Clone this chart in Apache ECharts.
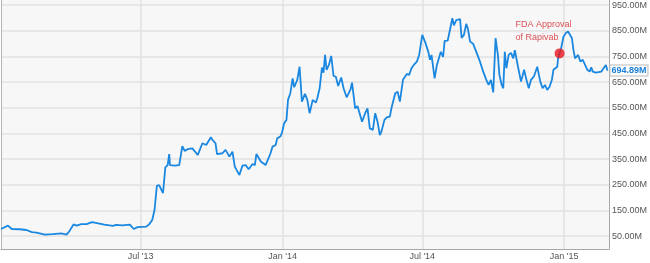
<!DOCTYPE html>
<html><head><meta charset="utf-8">
<script src="https://cdn.jsdelivr.net/npm/echarts@6/dist/echarts.min.js"></script>
<style>html,body{margin:0;padding:0;background:#fff}#c{width:650px;height:263px}</style>
</head><body><div id="c"></div>
<script>
const dates = [
'2013-01-01','2013-01-10','2013-01-15','2013-01-25','2013-02-03','2013-02-10','2013-02-16','2013-02-27','2013-03-09','2013-03-20',
'2013-03-27','2013-03-31','2013-04-05','2013-04-09','2013-04-15','2013-04-22','2013-04-29','2013-05-07','2013-05-15','2013-05-26',
'2013-05-30','2013-06-07','2013-06-17','2013-06-22','2013-06-27','2013-07-08','2013-07-12','2013-07-16','2013-07-19','2013-07-22',
'2013-07-25','2013-07-30','2013-08-02','2013-08-05','2013-08-07','2013-08-08','2013-08-14','2013-08-20','2013-08-24','2013-08-27',
'2013-08-31','2013-09-06','2013-09-13','2013-09-19','2013-09-24','2013-09-30','2013-10-02','2013-10-06','2013-10-08','2013-10-15',
'2013-10-19','2013-10-24','2013-10-28','2013-10-31','2013-11-06','2013-11-10','2013-11-14','2013-11-18','2013-11-23','2013-11-26',
'2013-11-28','2013-12-04','2013-12-10','2013-12-16','2013-12-19','2013-12-23','2013-12-25','2013-12-29','2013-12-31','2014-01-03',
'2014-01-06','2014-01-08','2014-01-11','2014-01-14','2014-01-16','2014-01-20','2014-01-23','2014-01-26','2014-01-30','2014-02-02',
'2014-02-05','2014-02-09','2014-02-13','2014-02-15','2014-02-18','2014-02-21','2014-02-23','2014-02-25','2014-02-27','2014-03-02',
'2014-03-05','2014-03-08','2014-03-11','2014-03-14','2014-03-16','2014-03-18','2014-03-21','2014-03-25','2014-03-30','2014-04-01',
'2014-04-05','2014-04-08','2014-04-14','2014-04-18','2014-04-21','2014-04-24','2014-04-28','2014-05-01','2014-05-04','2014-05-07',
'2014-05-09','2014-05-13','2014-05-16','2014-05-20','2014-05-22','2014-05-27','2014-05-30','2014-06-02','2014-06-06','2014-06-11',
'2014-06-14','2014-06-17','2014-06-20','2014-06-24','2014-06-27','2014-07-01','2014-07-05','2014-07-09','2014-07-11','2014-07-13',
'2014-07-17','2014-07-20','2014-07-25','2014-07-28','2014-07-30','2014-08-03','2014-08-06','2014-08-09','2014-08-11','2014-08-14',
'2014-08-19','2014-08-21','2014-08-24','2014-08-27','2014-08-29','2014-09-01','2014-09-05','2014-09-09','2014-09-13','2014-09-18',
'2014-09-22','2014-09-25','2014-09-28','2014-10-01','2014-10-04','2014-10-07','2014-10-09','2014-10-12','2014-10-14','2014-10-16',
'2014-10-18','2014-10-21','2014-10-24','2014-10-27','2014-10-29','2014-11-02','2014-11-06','2014-11-10','2014-11-13','2014-11-16',
'2014-11-19','2014-11-23','2014-11-27','2014-12-01','2014-12-04','2014-12-07','2014-12-10','2014-12-13','2014-12-16','2014-12-18',
'2014-12-20','2014-12-23','2014-12-24','2014-12-28','2014-12-31','2015-01-03','2015-01-06','2015-01-08','2015-01-11','2015-01-13',
'2015-01-15','2015-01-19','2015-01-22','2015-01-25','2015-01-28','2015-01-31','2015-02-03','2015-02-05','2015-02-07','2015-02-11',
'2015-02-18','2015-02-21','2015-02-24','2015-02-26'
];
const values = [
78,91,78,77,74,66,64,56,58,61,
56,71,96,91,97,97,105,100,95,90,
94,92,95,78,85,87,96,113,152,246,
249,218,318,327,370,327,325,327,401,382,
389,392,366,412,405,435,425,412,370,373,
386,360,379,321,288,325,327,311,331,327,
370,340,327,370,399,405,431,438,451,490,
503,581,607,665,630,659,710,574,604,581,
529,581,570,587,626,707,687,756,698,717,
752,674,671,635,652,668,626,591,622,648,
548,557,496,529,548,470,464,529,496,444,
457,503,513,516,548,607,613,574,659,682,
678,704,717,730,756,834,804,766,737,756,
665,717,768,748,811,812,855,899,871,892,
896,822,834,877,860,808,799,768,737,691,
659,639,659,610,821,756,678,639,626,768,
704,756,764,743,775,711,652,698,659,626,
659,674,710,652,626,639,620,632,659,698,
704,710,743,782,827,841,847,841,821,775,
743,756,730,737,717,698,691,708,691,687,
691,704,717,694.89
];
const yTickValues = [50,150,250,350,450,550,650,750,850,950];
const xTickDates = ['2013-07-01','2014-01-01','2014-07-01','2015-01-01'];
const xTickLabels = ["Jul '13","Jan '14","Jul '14","Jan '15"];
const xRange = ['2013-01-01','2015-02-28'];
const yRange = [0,970];
const annotationDate = '2014-12-26';
const annotationValue = 762;
const annotationText = 'FDA Approval\nof Rapivab';

function ts(s){const p=s.split('-').map(Number);return new Date(p[0],p[1]-1,p[2]).getTime();}
const FONT = "'Liberation Sans', Arial, sans-serif";

const chart = echarts.init(document.getElementById('c'), null, {renderer:'canvas'});
chart.setOption({
  animation:false,
  textStyle:{fontFamily:FONT},
  grid:{left:1,right:39,top:0,bottom:14,show:true,backgroundColor:'#f7f7f7',borderWidth:0},
  xAxis:{
    type:'time', min:ts(xRange[0]), max:ts(xRange[1]),
    axisLine:{show:true,onZero:false,lineStyle:{color:'#a8a8a8',width:1}},
    axisTick:{show:false}, axisLabel:{show:false}, splitLine:{show:false}
  },
  yAxis:[{
    type:'value', position:'right', min:yRange[0], max:yRange[1],
    axisLine:{show:true,onZero:false,lineStyle:{color:'#a8a8a8',width:1}},
    axisTick:{show:false,customValues:yTickValues},
    axisLabel:{customValues:yTickValues,color:'#555',fontSize:9,margin:3,fontFamily:FONT,
      formatter:function(v){return v.toFixed(2)+'M';}},
    splitLine:{show:true,lineStyle:{color:'#e2e2e2',width:1.5}}
  },{
    type:'value', position:'left', min:yRange[0], max:yRange[1],
    axisLine:{show:true,onZero:false,lineStyle:{color:'#b4b4b4',width:1}},
    axisTick:{show:false}, axisLabel:{show:false}, splitLine:{show:false}
  }],
  series:[{
    type:'line', yAxisIndex:0,
    data:dates.map((d,i)=>[ts(d),values[i]]),
    showSymbol:false, symbol:'none', silent:true, z:2,
    lineStyle:{color:'#1a87e0',width:1.8},
    itemStyle:{color:'#1a87e0'},
    endLabel:{show:true,distance:3,
      formatter:function(p){return p.value[1].toFixed(2)+'M';},
      color:'#1a80d9',fontWeight:'bold',fontSize:9,fontFamily:FONT,
      backgroundColor:'#fff',borderColor:'#b9b9b9',borderWidth:1,padding:[1,1,0,1]},
    markLine:{
      silent:true, z:1, symbol:['none','none'], animation:false,
      lineStyle:{color:'#e2e2e2',width:1.5,type:'solid'},
      label:{show:true,position:'start',distance:3,formatter:'{b}',color:'#555',fontSize:9,fontFamily:FONT},
      emphasis:{disabled:true},
      data:xTickDates.map((d,i)=>({xAxis:ts(d),name:xTickLabels[i]}))
    }
  },{
    type:'scatter', yAxisIndex:0, silent:true,
    data:[[ts(annotationDate),annotationValue]],
    symbolSize:10, itemStyle:{color:'#e8151b'},
    label:{show:true,formatter:annotationText,position:[-39,-30],
      color:'#d6262c',fontSize:9,lineHeight:13,align:'left',verticalAlign:'top',fontFamily:FONT},
    z:3
  }]
});
</script>
</body></html>
